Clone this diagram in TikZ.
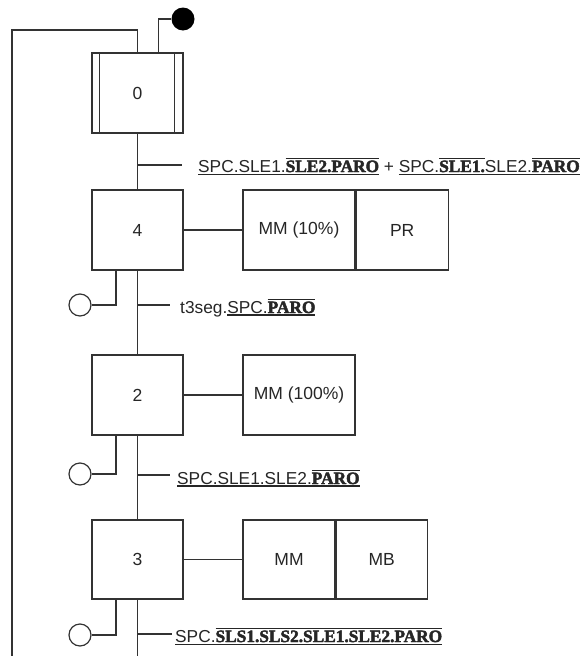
\documentclass[tikz,border=0pt]{standalone}
\usepackage{fontspec}
\setmainfont{Liberation Sans}
\newfontfamily\bserfam{Liberation Serif}[BoldFeatures={FakeBold=2.5}]
\newcommand\bsf{\bserfam\bfseries}
\newcommand\myul[1]{\vtop{\hbox{#1}\kern1.3pt\hrule height 1.2pt}}
\newcommand\myol[1]{\vbox{\hrule height 1.2pt\kern1.6pt\hbox{#1}}}
\begin{document}
\begin{tikzpicture}[x=1pt,y=-1pt,
  line/.style={draw=black!80,line width=1.2pt},
  stepbox/.style={line,minimum width=91pt,minimum height=80pt,inner sep=0pt,text=black!85,font=\fontsize{17.5}{20}\selectfont},
  actbox/.style={line,minimum height=80pt,inner sep=0pt,text=black!85,font=\fontsize{17.5}{20}\selectfont},
  trlabel/.style={anchor=base west,inner sep=0pt,text=black!85,font=\fontsize{17.3}{20}\selectfont},
  forced/.style={circle,line,minimum size=22pt,inner sep=0pt}]
\useasboundingbox[fill=white] (0,0) rectangle (584,656);

% steps
\node[stepbox] (s0) at (137.5,93) {0};
\draw[line] ([xshift=8pt]s0.north west) -- ([xshift=8pt]s0.south west);
\draw[line] ([xshift=-9pt]s0.north east) -- ([xshift=-9pt]s0.south east);
\node[circle,fill=black,minimum size=23pt,inner sep=0pt] (init) at (183,19) {};
\draw[line] ([xshift=21pt]s0.north) |- (init);

\node[stepbox] (s4) at (137.5,230) {4};
\node[actbox,minimum width=112pt] (a4a) at (299,230) {MM (10\%)};
\node[actbox,minimum width=92pt,anchor=west] (a4b) at (a4a.east) {PR};

\node[stepbox] (s2) at (137.5,395) {2};
\node[actbox,minimum width=112pt] (a2) at (299,395) {MM (100\%)};

\node[stepbox,minimum height=79pt] (s3) at (137.5,559.5) {3};
\node[actbox,minimum width=92pt,minimum height=79pt] (a3a) at (289,559.5) {MM};
\node[actbox,minimum width=91pt,minimum height=79pt,anchor=west] (a3b) at (a3a.east) {MB};

% main line
\coordinate (mainend) at (137.5,656);
\draw[line] (s0) -- (s4);
\draw[line] (s4) -- (s2);
\draw[line] (s2) -- (s3);
\draw[line] (s3) -- (mainend);

% loop back
\coordinate (loopb) at (12,656);
\coordinate (loopt) at (12,30);
\draw[line] (loopb) -- (loopt) -| (s0.north);

% actions
\draw[line] (s4) -- (a4a);
\draw[line] (s2) -- (a2);
\draw[line] (s3) -- (a3a);

% transitions
\coordinate (t1) at (137.5,165); \coordinate (t1e) at (182,165);
\draw[line] (t1) -- (t1e);
\node[trlabel] (l1) at (198,172) {\myul{SPC.SLE1.\myol{\bsf SLE2.PARO}} + \myul{SPC.\myol{\bsf SLE1.}SLE2.\myol{\bsf PARO}}};

\coordinate (t2) at (137.5,305); \coordinate (t2e) at (170,305);
\draw[line] (t2) -- (t2e);
\node[trlabel] (l2) at (180,313) {t3seg.\myul{SPC.\myol{\bsf PARO}}};

\coordinate (t3) at (137.5,475); \coordinate (t3e) at (170,475);
\draw[line] (t3) -- (t3e);
\node[trlabel] (l3) at (177,484) {\myul{SPC.SLE1.SLE2.\myol{\bsf PARO}}};

\coordinate (t4) at (137.5,634); \coordinate (t4e) at (172,634);
\draw[line] (t4) -- (t4e);
\node[trlabel] (l4) at (175,642) {\myul{SPC.\myol{\bsf SLS1.SLS2.SLE1.SLE2.PARO}}};

% forced circles
\node[forced] (f4) at (80,305) {};
\coordinate (f4k) at ([xshift=-21.5pt]s4.south);
\draw[line] (f4k) |- (f4);
\node[forced] (f2) at (80,474) {};
\coordinate (f2k) at ([xshift=-21.5pt]s2.south);
\draw[line] (f2k) |- (f2);
\node[forced] (f3) at (80,635) {};
\coordinate (f3k) at ([xshift=-21.5pt]s3.south);
\draw[line] (f3k) |- (f3);
\end{tikzpicture}
\end{document}
